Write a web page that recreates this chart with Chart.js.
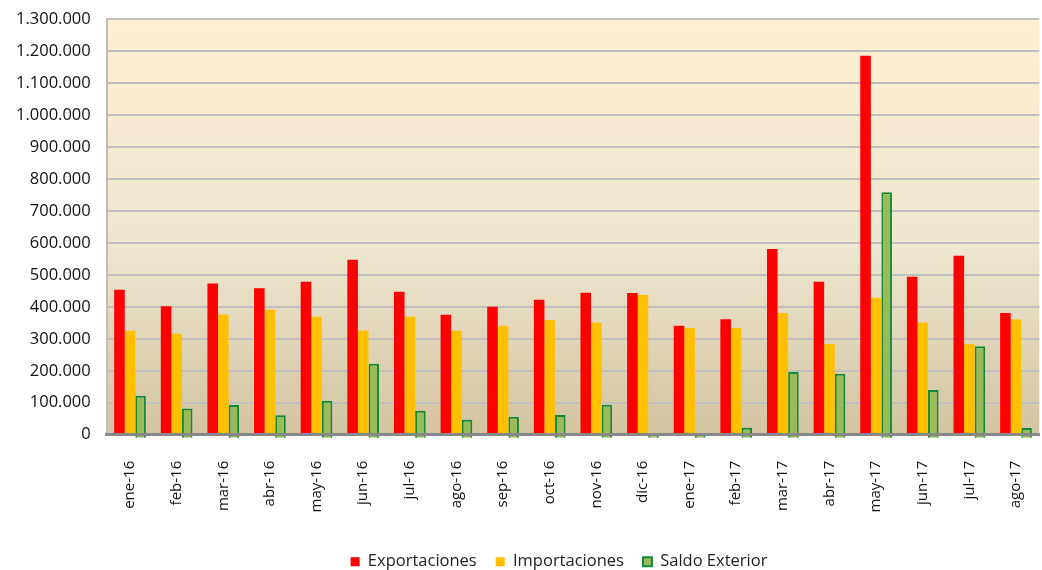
<!DOCTYPE html>
<html>
<head>
<meta charset="utf-8">
<script src="https://cdn.jsdelivr.net/npm/chart.js@4.4.1/dist/chart.umd.min.js"></script>
<style>
html,body{margin:0;padding:0;background:#fff;overflow:hidden;}
#wrap{width:1042px;height:570px;position:relative;overflow:hidden;}
#c{position:absolute;left:0;top:-7px;}
</style>
</head>
<body>
<div id="wrap"><canvas id="c" width="1052" height="577"></canvas></div>
<script>
const categories = ['ene-16','feb-16','mar-16','abr-16','may-16','jun-16','jul-16','ago-16','sep-16','oct-16','nov-16','dic-16','ene-17','feb-17','mar-17','abr-17','may-17','jun-17','jul-17','ago-17'];
const exportaciones = [453000,402000,473000,458000,478000,547000,447000,375000,400000,422000,444000,443000,341000,361000,581000,478000,1185000,494000,560000,381000];
const importaciones = [325000,316000,376000,391000,369000,325000,369000,325000,341000,359000,351000,437000,334000,334000,381000,284000,428000,351000,283000,360000];
const saldoExterior = [122000,82000,93000,61000,106000,222000,75000,47000,56000,62000,94000,0,0,22000,196000,191000,758000,140000,277000,21000];
const yTicks = {min:0, max:1300000, step:100000};

const bgPlugin = {
  id:'bg',
  beforeDraw(chart){
    const {ctx, chartArea:a} = chart;
    const g = ctx.createLinearGradient(0,a.top,0,a.bottom);
    g.addColorStop(0,'#FDEFD3');
    g.addColorStop(0.55,'#EEE6D0');
    g.addColorStop(1,'#D3C4A1');
    ctx.save();
    ctx.fillStyle = g;
    ctx.fillRect(a.left,a.top,a.right-a.left,a.bottom-a.top);
    ctx.restore();
  }
};

const legendShift = {
  id:'legendShift',
  afterLayout(chart){
    if (chart.legend){ chart.legend.left += 33; chart.legend.right += 33; }
  }
};

const fmt = v => String(v).replace(/\B(?=(\d{3})+(?!\d))/g,'.');

new Chart(document.getElementById('c'),{
  type:'bar',
  data:{
    labels:categories,
    datasets:[
      {label:'Exportaciones',data:exportaciones,backgroundColor:'#FF0000',borderWidth:0},
      {label:'Importaciones',data:importaciones,backgroundColor:'#FFC000',borderWidth:0},
      {label:'Saldo Exterior',data:saldoExterior,backgroundColor:'#9BBB59',borderColor:'#118A3A',borderWidth:2,base:-9000,clip:false}
    ]
  },
  options:{
    responsive:false,
    animation:false,
    layout:{padding:{left:0,right:0,top:-2,bottom:-10}},
    datasets:{bar:{categoryPercentage:0.68,barPercentage:1.0}},
    plugins:{
      legend:{
        position:'bottom',
        labels:{boxWidth:9,boxHeight:9,padding:19,color:'#222',font:{family:'"Open Sans", sans-serif',size:16.5}}
      },
      tooltip:{enabled:false}
    },
    scales:{
      x:{
        grid:{display:false},
        border:{color:'#888888',width:3,z:1},
        ticks:{maxRotation:90,minRotation:90,color:'#111',padding:18,font:{family:'"Open Sans", sans-serif',size:15}},
        afterFit:(s)=>{s.height += 4;}
      },
      y:{
        min:yTicks.min,max:yTicks.max,
        grid:{color:'#C0C0C0',lineWidth:2,drawTicks:false},
        border:{color:'#BFBFBF',width:2},
        ticks:{stepSize:yTicks.step,padding:16,color:'#111',font:{family:'"Open Sans", sans-serif',size:16.5},callback:v=>fmt(v)}
      }
    }
  },
  plugins:[bgPlugin, legendShift]
});
</script>
</body>
</html>
